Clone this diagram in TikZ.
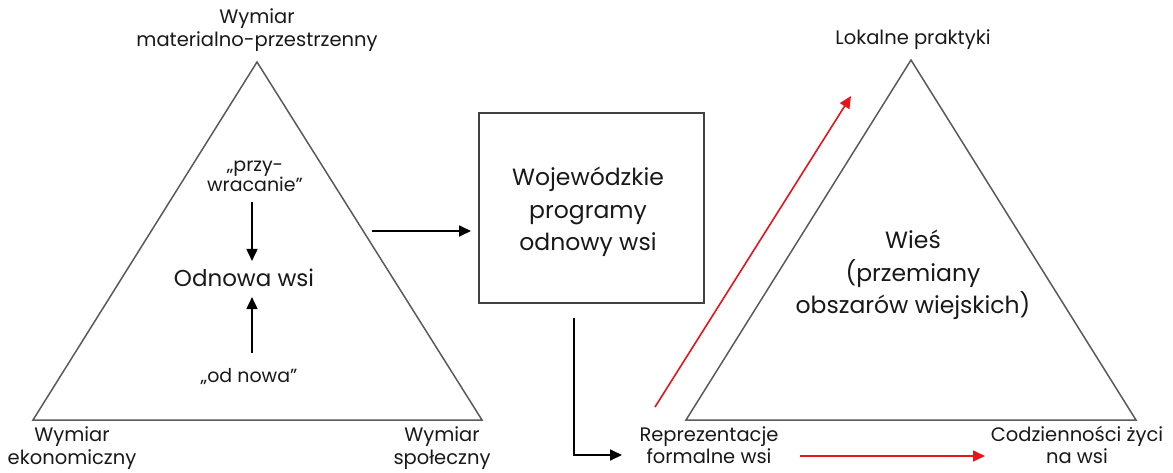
\documentclass[tikz,border=0pt]{standalone}
\usepackage{fontspec}
\setmainfont{Poppins}
\usetikzlibrary{arrows.meta,calc}
\definecolor{txt}{RGB}{25,25,25}
\definecolor{trigray}{RGB}{90,90,90}
\definecolor{boxgray}{RGB}{65,65,65}
\definecolor{redc}{RGB}{228,22,28}
\begin{document}
\begin{tikzpicture}[x=1pt,y=-1pt,
  lbl/.style={font=\fontsize{19.5}{23.5}\selectfont, text=txt, align=center, inner sep=0pt},
  mid/.style={font=\fontsize{19}{19}\selectfont, text=txt, align=center, inner sep=0pt},
  big/.style={font=\fontsize{23.5}{32.5}\selectfont, text=txt, align=center, inner sep=0pt},
  tri/.style={draw=trigray, line width=1.5pt, line join=miter},
  arr/.style={-{Triangle[length=12pt,width=11pt]}, line width=1.7pt, draw=black},
  redarr/.style={-{Triangle[length=12pt,width=11pt]}, line width=1.6pt, draw=redc, fill=redc}
]
\fill[white] (0,0) rectangle (1173,472);
\useasboundingbox (0,0) rectangle (1173,472);

% left triangle
\coordinate (A1) at (257,62);
\coordinate (B1) at (33,420);
\coordinate (C1) at (482,420);
\draw[tri] (A1) -- (B1) -- (C1) -- cycle;

\node[lbl] (top1) at (257,30) {Wymiar\\materialno-przestrzenny};
\node[lbl] (bl1) at (72,448) {Wymiar\\ekonomiczny};
\node[lbl] (br1) at (442,448) {Wymiar\\społeczny};

\node[mid] (przy) at (255,176) {„przy-\\wracanie”};
\node[font=\fontsize{23}{25}\selectfont, text=txt, inner sep=0pt] (odnowa) at (244,278) {Odnowa wsi};
\node[mid] (odnowo) at (249,377) {„od nowa”};
\coordinate (ax) at (252,0);
\draw[arr] ($(przy.south -| ax)+(0,10)$) -- ($(odnowa.north -| ax)+(0,-8)$);
\draw[arr] ($(odnowo.north -| ax)+(0,-16)$) -- ($(odnowa.south -| ax)+(0,10)$);

% arrow to box
\coordinate (e1s) at (372,231);
\coordinate (e1e) at (471,231);
\draw[arr] (e1s) -- (e1e);

% box
\node[draw=boxgray, line width=1.7pt, minimum width=225pt, minimum height=190pt, inner sep=0pt] (box) at (591.5,208) {};
\node[big] (boxtxt) at (588,212) {Wojewódzkie\\programy\\odnowy wsi};

% elbow arrow
\coordinate (e2) at (622,455);
\draw[arr] ($(box.south)+(-17.5,14)$) |- (e2);

% right triangle
\coordinate (A2) at (911,60);
\coordinate (B2) at (686,420);
\coordinate (C2) at (1136,420);
\draw[tri] (A2) -- (B2) -- (C2) -- cycle;

\node[lbl] (lok) at (913,40) {Lokalne praktyki};
\node[lbl, font=\fontsize{19.5}{22.5}\selectfont] (repr) at (709,445) {Reprezentacje\\formalne wsi};
\node[lbl, font=\fontsize{19.5}{22.5}\selectfont] (codz) at (1077,445) {Codzienności życi\\na wsi};
\node[big] (wies) at (913,275) {Wieś\\(przemiany\\obszarów wiejskich)};

% red arrows
\coordinate (r1s) at (655,407);
\coordinate (r1e) at (851,96);
\draw[redarr] (r1s) -- (r1e);
\coordinate (r2s) at (800,456);
\coordinate (r2e) at (985,456);
\draw[redarr] (r2s) -- (r2e);
\end{tikzpicture}
\end{document}
